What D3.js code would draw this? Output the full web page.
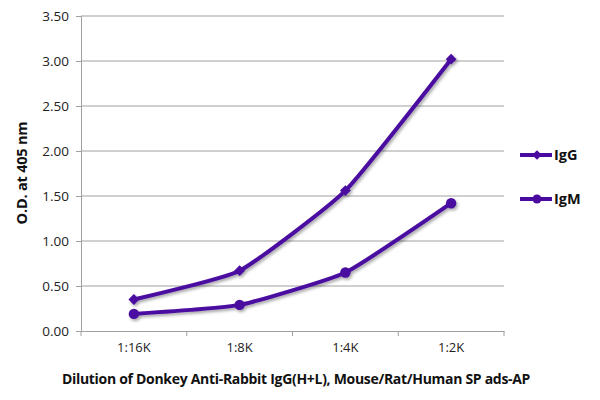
<!DOCTYPE html>
<html><head><meta charset="utf-8">
<script src="https://cdn.jsdelivr.net/npm/d3@7"></script>
<style>body{margin:0;background:#fff}svg{display:block}text{font-family:"Open Sans",Lato,sans-serif}</style>
</head><body><svg id="c" width="600" height="400"></svg>
<script>
const categories = ["1:16K","1:8K","1:4K","1:2K"];
const igg = [0.35, 0.67, 1.56, 3.02];
const igm = [0.19, 0.29, 0.65, 1.42];
const yTicks = [0,0.5,1,1.5,2,2.5,3,3.5];
const seriesNames = ["IgG","IgM"];
const color = "#4a0aa0";

const svg = d3.select("#c");
const L=81, R=504, T=16, B=331;
const x = d3.scaleBand().domain(categories).range([L,R]);
const y = d3.scaleLinear().domain([0,3.5]).range([B,T]);

const defs = svg.append("defs");
const f = defs.append("filter").attr("id","sh").attr("x","-20%").attr("y","-20%").attr("width","140%").attr("height","140%");
f.append("feDropShadow").attr("dx",1.5).attr("dy",2).attr("stdDeviation",1.5).attr("flood-color","#000").attr("flood-opacity",0.35);

// grid
svg.append("g").selectAll("line").data(yTicks.slice(1)).join("line")
  .attr("x1",L).attr("x2",R).attr("y1",d=>y(d)).attr("y2",d=>y(d))
  .attr("stroke","#a0a0a0").attr("stroke-width",1);

// y axis
const ya = svg.append("g").attr("transform",`translate(${L},0)`)
  .call(d3.axisLeft(y).tickValues(yTicks).tickFormat(d3.format(".2f")).tickSize(5).tickPadding(7));
ya.select(".domain").attr("stroke","#a0a0a0");
ya.selectAll(".tick line").attr("stroke","#a0a0a0");
ya.selectAll("text").attr("font-size",13.5).attr("fill","#222");

// x axis
const xa = svg.append("g").attr("transform",`translate(0,${B})`)
  .call(d3.axisBottom(x).tickSize(0).tickPadding(12));
xa.select(".domain").attr("stroke","#a0a0a0");
xa.selectAll("text").attr("font-size",13).attr("fill","#222");
const edges = [L, ...categories.map(c=>x(c)+x.bandwidth())];
svg.append("g").selectAll("line").data(edges).join("line")
  .attr("x1",d=>d).attr("x2",d=>d).attr("y1",B).attr("y2",B+5).attr("stroke","#a0a0a0");

// titles
svg.append("text").attr("transform","translate(27,173) rotate(-90)").attr("text-anchor","middle")
  .attr("font-size",14.5).attr("font-weight","bold").attr("fill","#111").attr("letter-spacing",-0.2).text("O.D. at 405 nm");
svg.append("text").attr("x",296).attr("y",384).attr("text-anchor","middle")
  .attr("font-size",14).attr("font-weight","bold").attr("fill","#111").attr("letter-spacing",-0.3)
  .text("Dilution of Donkey Anti-Rabbit IgG(H+L), Mouse/Rat/Human SP ads-AP");

const line = d3.line().x((d,i)=>x(categories[i])+x.bandwidth()/2).y(d=>y(d)).curve(d3.curveCardinal.tension(0.55));
const series = [igg, igm];
const g = svg.append("g").attr("filter","url(#sh)");
series.forEach((vals,si)=>{
  g.append("path").attr("d",line(vals)).attr("fill","none").attr("stroke",color).attr("stroke-width",4).attr("stroke-linejoin","round");
  vals.forEach((v,i)=>{
    const cx = x(categories[i])+x.bandwidth()/2, cy=y(v);
    if(si===0) g.append("path").attr("d",d3.symbol(d3.symbolDiamond2,75)()).attr("transform",`translate(${cx},${cy})`).attr("fill",color);
    else g.append("circle").attr("cx",cx).attr("cy",cy).attr("r",5.2).attr("fill",color);
  });
});

// legend
const ly=[155,199];
seriesNames.forEach((n,i)=>{
  const lg = svg.append("g").attr("transform",`translate(0,${ly[i]})`);
  lg.append("line").attr("x1",520).attr("x2",552).attr("y1",0).attr("y2",0).attr("stroke",color).attr("stroke-width",4);
  if(i===0) lg.append("path").attr("d",d3.symbol(d3.symbolDiamond2,60)()).attr("transform","translate(537,0)").attr("fill",color);
  else lg.append("circle").attr("cx",537).attr("cy",0).attr("r",4.5).attr("fill",color);
  lg.append("text").attr("x",554).attr("y",0).attr("dy","0.35em").attr("font-size",14.5).attr("font-weight","bold").attr("fill","#111").text(n);
});
</script></body></html>
